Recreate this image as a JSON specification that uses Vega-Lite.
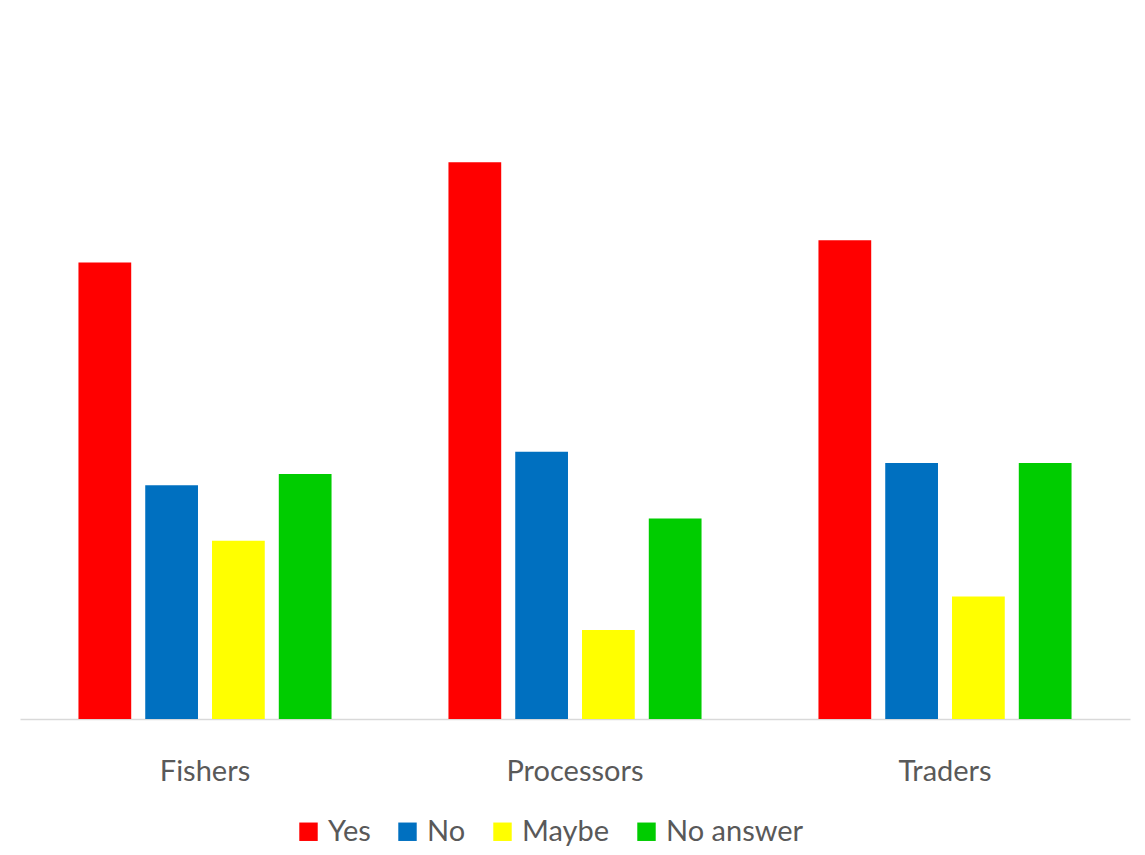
{
  "$schema": "https://vega.github.io/schema/vega-lite/v6.json",
  "autosize": {"type": "none"},
  "padding": {"left": 20, "top": 51, "right": 15, "bottom": 136},
  "width": 1110,
  "height": 668,
  "background": "#ffffff",
  "config": {
    "view": {"stroke": null},
    "font": "Lato"
  },
  "data": {
    "values": [
      {"group": "Fishers", "answer": "Yes", "count": 41},
      {"group": "Fishers", "answer": "No", "count": 21},
      {"group": "Fishers", "answer": "Maybe", "count": 16},
      {"group": "Fishers", "answer": "No answer", "count": 22},
      {"group": "Processors", "answer": "Yes", "count": 50},
      {"group": "Processors", "answer": "No", "count": 24},
      {"group": "Processors", "answer": "Maybe", "count": 8},
      {"group": "Processors", "answer": "No answer", "count": 18},
      {"group": "Traders", "answer": "Yes", "count": 43},
      {"group": "Traders", "answer": "No", "count": 23},
      {"group": "Traders", "answer": "Maybe", "count": 11},
      {"group": "Traders", "answer": "No answer", "count": 23}
    ]
  },
  "mark": {"type": "bar"},
  "encoding": {
    "x": {
      "field": "group",
      "type": "nominal",
      "sort": ["Fishers", "Processors", "Traders"],
      "scale": {"paddingInner": 0.316, "paddingOuter": 0.158},
      "axis": {
        "title": null,
        "labelAngle": 0,
        "ticks": false,
        "tickSize": 0,
        "labelPadding": 61,
        "labelBaseline": "alphabetic",
        "labelFontSize": 29,
        "labelColor": "#595959",
        "labelFont": "Lato",
        "domainColor": "#d9d9d9",
        "domainWidth": 1.5,
        "grid": false
      }
    },
    "xOffset": {
      "field": "answer",
      "type": "nominal",
      "sort": ["Yes", "No", "Maybe", "No answer"],
      "scale": {"paddingInner": 0.21, "paddingOuter": 0}
    },
    "y": {
      "field": "count",
      "type": "quantitative",
      "scale": {"domain": [0, 60]},
      "axis": null
    },
    "color": {
      "field": "answer",
      "type": "nominal",
      "sort": ["Yes", "No", "Maybe", "No answer"],
      "scale": {
        "domain": ["Yes", "No", "Maybe", "No answer"],
        "range": ["#ff0000", "#0070c0", "#ffff00", "#00cc00"]
      },
      "legend": {
        "title": null,
        "orient": "none",
        "direction": "horizontal",
        "legendX": 274,
        "legendY": 766,
        "symbolType": "square",
        "symbolSize": 340,
        "symbolStrokeWidth": 0,
        "labelFontSize": 29,
        "labelColor": "#595959",
        "labelFont": "Lato",
        "labelOffset": 5,
        "columnPadding": 22
      }
    }
  }
}
